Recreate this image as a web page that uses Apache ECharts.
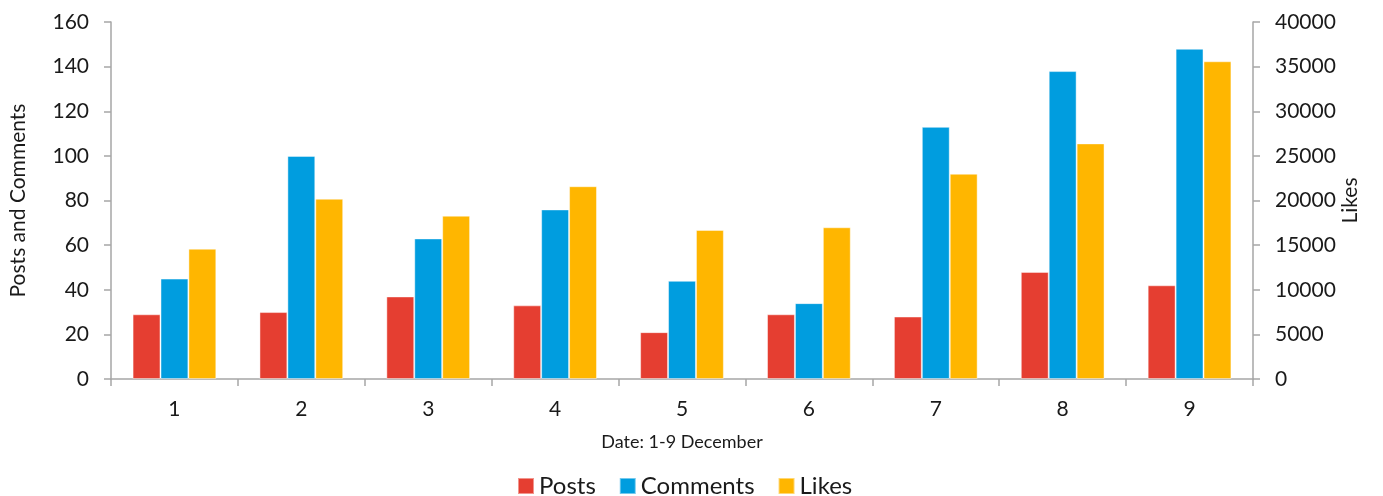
<!DOCTYPE html>
<html>
<head>
<meta charset="utf-8">
<style>
  html, body { margin: 0; padding: 0; background: #ffffff; }
  #chart { width: 1383px; height: 496px; }
</style>
<script src="https://cdn.jsdelivr.net/npm/echarts@6/dist/echarts.min.js"></script>
</head>
<body>
<div id="chart"></div>
<script>
const categories = ['1', '2', '3', '4', '5', '6', '7', '8', '9'];
const posts = [29, 30, 37, 33, 21, 29, 28, 48, 42];
const comments = [45, 100, 63, 76, 44, 34, 113, 138, 148];
const likes = [14600, 20200, 18300, 21600, 16700, 17000, 23000, 26400, 35600];
const leftTicks = { min: 0, max: 160, interval: 20 };
const rightTicks = { min: 0, max: 40000, interval: 5000 };

const FONT = 'Lato, "Noto Sans", sans-serif';
const AXIS_COLOR = '#a6a6a6';
const TEXT_COLOR = '#1a1a1a';
const COLORS = ['#e53e31', '#009ddf', '#ffb600'];

const chart = echarts.init(document.getElementById('chart'), null, { renderer: 'canvas' });

const axisLineStyle = { show: true, lineStyle: { color: AXIS_COLOR, width: 1.5 } };
const tickStyle = { show: true, length: 7, lineStyle: { color: AXIS_COLOR, width: 1.5 } };

chart.setOption({
  animation: false,
  textStyle: { fontFamily: FONT, color: TEXT_COLOR },
  color: COLORS,
  grid: { left: 111, right: 130, top: 22, bottom: 117, containLabel: false },
  legend: {
    bottom: -7,
    left: 512,
    itemWidth: 16,
    itemHeight: 16,
    itemGap: 23,
    icon: 'rect',
    textStyle: { fontFamily: FONT, fontSize: 24, color: TEXT_COLOR },
    data: ['Posts', 'Comments', 'Likes']
  },
  xAxis: {
    type: 'category',
    data: categories,
    name: 'Date: 1-9 December',
    nameLocation: 'middle',
    nameGap: 54,
    nameTextStyle: { fontFamily: FONT, fontSize: 18, color: TEXT_COLOR },
    axisLine: axisLineStyle,
    axisTick: { show: true, alignWithLabel: false, length: 7, lineStyle: { color: AXIS_COLOR, width: 1.5 } },
    axisLabel: { fontFamily: FONT, fontSize: 21, color: TEXT_COLOR, margin: 20 },
    splitLine: { show: false }
  },
  yAxis: [
    {
      type: 'value',
      position: 'left',
      min: leftTicks.min,
      max: leftTicks.max,
      interval: leftTicks.interval,
      name: 'Posts and Comments',
      nameLocation: 'middle',
      nameGap: 82,
      nameTextStyle: { fontFamily: FONT, fontSize: 21, color: TEXT_COLOR },
      axisLine: axisLineStyle,
      axisTick: tickStyle,
      axisLabel: { fontFamily: FONT, fontSize: 21, color: TEXT_COLOR, margin: 22 },
      splitLine: { show: false }
    },
    {
      type: 'value',
      position: 'right',
      min: rightTicks.min,
      max: rightTicks.max,
      interval: rightTicks.interval,
      name: 'Likes',
      nameLocation: 'middle',
      nameGap: 87,
      nameRotate: 90,
      nameMoveOverlap: false,
      nameTextStyle: { fontFamily: FONT, fontSize: 21, color: TEXT_COLOR },
      axisLine: axisLineStyle,
      axisTick: tickStyle,
      axisLabel: {
        fontFamily: FONT, fontSize: 21, color: TEXT_COLOR, margin: 22,
        formatter: function (v) { return String(v); }
      },
      splitLine: { show: false }
    }
  ],
  series: [
    {
      name: 'Posts', type: 'bar', yAxisIndex: 0, data: posts,
      barGap: '0%', barCategoryGap: '34%',
      itemStyle: { color: COLORS[0], borderColor: 'rgba(255,255,255,0.45)', borderWidth: 1 }
    },
    {
      name: 'Comments', type: 'bar', yAxisIndex: 0, data: comments,
      barGap: '0%', barCategoryGap: '34%',
      itemStyle: { color: COLORS[1], borderColor: 'rgba(255,255,255,0.45)', borderWidth: 1 }
    },
    {
      name: 'Likes', type: 'bar', yAxisIndex: 1, data: likes,
      barGap: '0%', barCategoryGap: '34%',
      itemStyle: { color: COLORS[2], borderColor: 'rgba(255,255,255,0.45)', borderWidth: 1 }
    }
  ]
});
</script>
</body>
</html>
